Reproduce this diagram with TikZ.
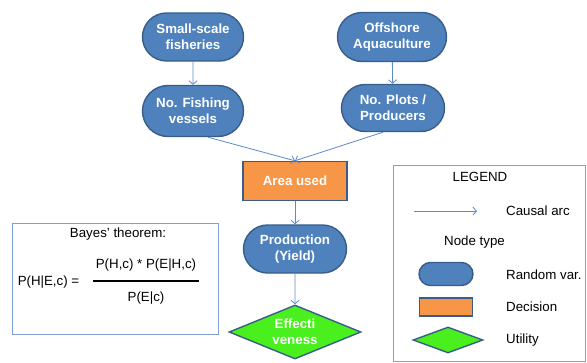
\documentclass[tikz,border=0pt]{standalone}
\usepackage{fontspec}
\setmainfont{Liberation Sans}
\usetikzlibrary{shapes.geometric,shapes.misc,arrows.meta}
\definecolor{nodeblue}{HTML}{4F81BD}
\definecolor{edgeblue}{HTML}{385D8A}
\definecolor{arcblue}{HTML}{5B8AC6}
\definecolor{decorange}{HTML}{F79646}
\definecolor{utilgreen}{HTML}{4AF01E}
\definecolor{boxblue}{HTML}{7F9FD0}
\begin{document}
\begin{tikzpicture}[x=1pt,y=-1pt,
  every node/.style={font=\fontsize{13.3}{16}\selectfont, inner sep=0pt},
  rv/.style={rounded rectangle, draw=edgeblue, line width=1.4pt, fill=nodeblue,
    text=white, font=\fontsize{13.3}{16}\selectfont\bfseries, align=center},
  dec/.style={draw=edgeblue, line width=1.4pt, fill=decorange, text=white,
    font=\fontsize{13.3}{16}\selectfont\bfseries, align=center},
  util/.style={diamond, draw=edgeblue, line width=1.4pt, fill=utilgreen, text=white,
    font=\fontsize{13.3}{16}\selectfont\bfseries, align=center},
  arc/.style={draw=arcblue, line width=0.8pt, -{Straight Barb[length=3.5pt,width=8pt]}},
  lbl/.style={anchor=west, text=black}
]
\useasboundingbox (0,0) rectangle (587,362);

% main nodes
\node[rv, minimum width=101pt, minimum height=48pt] (ssf) at (193,37) {Small-scale\\fisheries};
\node[rv, minimum width=109pt, minimum height=49pt] (oa) at (392,37) {Offshore\\Aquaculture};
\node[rv, minimum width=101pt, minimum height=51pt] (fv) at (193,111) {No. Fishing\\vessels};
\node[rv, minimum width=103pt, minimum height=47pt] (np) at (393,108) {No. Plots /\\Producers};
\node[dec, minimum width=104pt, minimum height=39pt] (au) at (295,181) {Area used};
\node[rv, minimum width=103pt, minimum height=48pt] (pr) at (295,249) {Production\\(Yield)};
\node[util, minimum width=132pt, minimum height=54pt, shape aspect=2.44] (ef) at (295,332) {Effecti\\veness};

% connectors
\draw[arc] (ssf) -- (fv);
\draw[arc] (oa) -- (np);
\draw[arc] ([xshift=15pt]fv.south) -- (au.north);
\draw[arc] ([xshift=-10pt]np.south) -- (au.north);
\draw[arc] (au) -- (pr);
\draw[arc] (pr) -- (ef);

% Bayes box
\node[draw=boxblue, line width=0.8pt, minimum width=206pt, minimum height=111pt] (bbox) at (115,278.5) {};
\node (bt) at (118,234) {Bayes’ theorem:};
\node (lhs) at (48.5,282) {P(H|E,c) =};
\node (num) at (146,265) {P(H,c) * P(E|H,c)};
\node (den) at (146,298) {P(E|c)};
\coordinate (fl) at (93,281);
\coordinate (fr) at (199,281);
\draw[line width=1.2pt] (fl) -- (fr);

% Legend
\node[draw=boxblue, line width=0.8pt, minimum width=192pt, minimum height=196pt] (lbox) at (489.5,263) {};
\node (lt) at (480,177) {LEGEND};
\coordinate (la) at (414,211);
\coordinate (lb) at (477,211);
\draw[arc] (la) -- (lb);
\node[lbl] (lca) at (506,211) {Causal arc};
\node[lbl] (lnt) at (444,242) {Node type};
\node[rv, minimum width=54pt, minimum height=23pt] (lrv) at (446,274) {};
\node[lbl] (lrvt) at (506,275) {Random var.};
\node[dec, minimum width=53pt, minimum height=18pt] (ldec) at (446,307) {};
\node[lbl] (ldect) at (506,307) {Decision};
\node[util, minimum width=70pt, minimum height=26pt, shape aspect=2.7] (lut) at (448,340) {};
\node[lbl] (lutt) at (506,340) {Utility};
\end{tikzpicture}
\end{document}
